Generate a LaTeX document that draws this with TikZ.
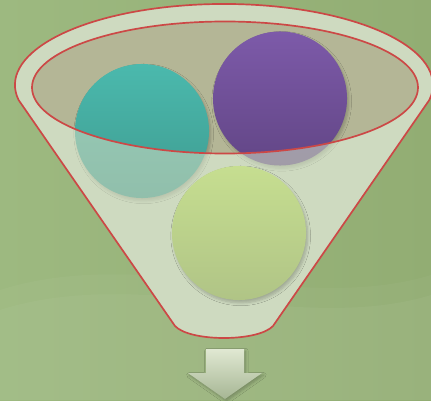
\documentclass[tikz,border=0pt]{standalone}
\usepackage{tikz}
\usetikzlibrary{shadows.blur}

\definecolor{bgleft}{RGB}{157,185,128}
\definecolor{bgright}{RGB}{146,173,115}
\definecolor{funnelfill}{RGB}{206,218,192}
\definecolor{mouthfill}{RGB}{180,182,150}
\definecolor{rimred}{RGB}{204,72,70}
\definecolor{tealtop}{RGB}{75,185,173}
\definecolor{tealbot}{RGB}{62,155,144}
\definecolor{purptop}{RGB}{125,90,169}
\definecolor{purpbot}{RGB}{98,70,134}
\definecolor{greentop}{RGB}{198,222,144}
\definecolor{greenbot}{RGB}{176,196,134}
\definecolor{arrowtop}{RGB}{224,232,210}
\definecolor{arrowbot}{RGB}{166,182,148}

\begin{document}
\begin{tikzpicture}[x=0.025cm, y=-0.025cm,
    ball/.style={circle, minimum size=3.35cm, inner sep=0pt,
        blur shadow={shadow xshift=1.2pt, shadow yshift=-2pt, shadow blur radius=2pt, shadow blur steps=6, shadow opacity=22}},
    rim/.style={draw=rimred, line width=1.2pt}
]
\useasboundingbox (0,0) rectangle (431,400);
\fill[left color=bgleft, right color=bgright] (0,0) rectangle (431,400);
\fill[white, opacity=0.04] (0,310) .. controls (140,265) and (300,335) .. (431,295) -- (431,400) -- (0,400) -- cycle;
\fill[white, opacity=0.03] (0,290) .. controls (140,245) and (300,315) .. (431,275) -- (431,400) -- (0,400) -- cycle;

% funnel body and mouth
\fill[funnelfill] (18.6,100) arc[start angle=169.3, end angle=370.7, x radius=209, y radius=81]
    -- (273,326) .. controls (258,342) and (190,342) .. (175,326) -- cycle;
\fill[mouthfill] (225,87.5) ellipse[x radius=193, y radius=66];

% balls
\node[ball, top color=tealtop, bottom color=tealbot] (teal) at (142,131) {};
\node[ball, top color=purptop, bottom color=purpbot] (purple) at (280,98.5) {};

% front of funnel
\path[rim, fill=funnelfill, fill opacity=0.58, even odd rule]
    (18.6,100) arc[start angle=169.3, end angle=370.7, x radius=209, y radius=81]
    -- (273,326) .. controls (258,342) and (190,342) .. (175,326) -- cycle
    (225,87.5) ellipse[x radius=193, y radius=66];

\node[ball, top color=greentop, bottom color=greenbot] (green) at (239,233) {};

% arrow
\path[top color=arrowtop, bottom color=arrowbot,
    blur shadow={shadow xshift=1pt, shadow yshift=-1.5pt, shadow blur radius=2pt, shadow blur steps=6, shadow opacity=25}]
    (206,349) -- (244,349) -- (244,373) -- (262,373) -- (225,399) -- (188,373) -- (206,373) -- cycle;
\end{tikzpicture}
\end{document}
